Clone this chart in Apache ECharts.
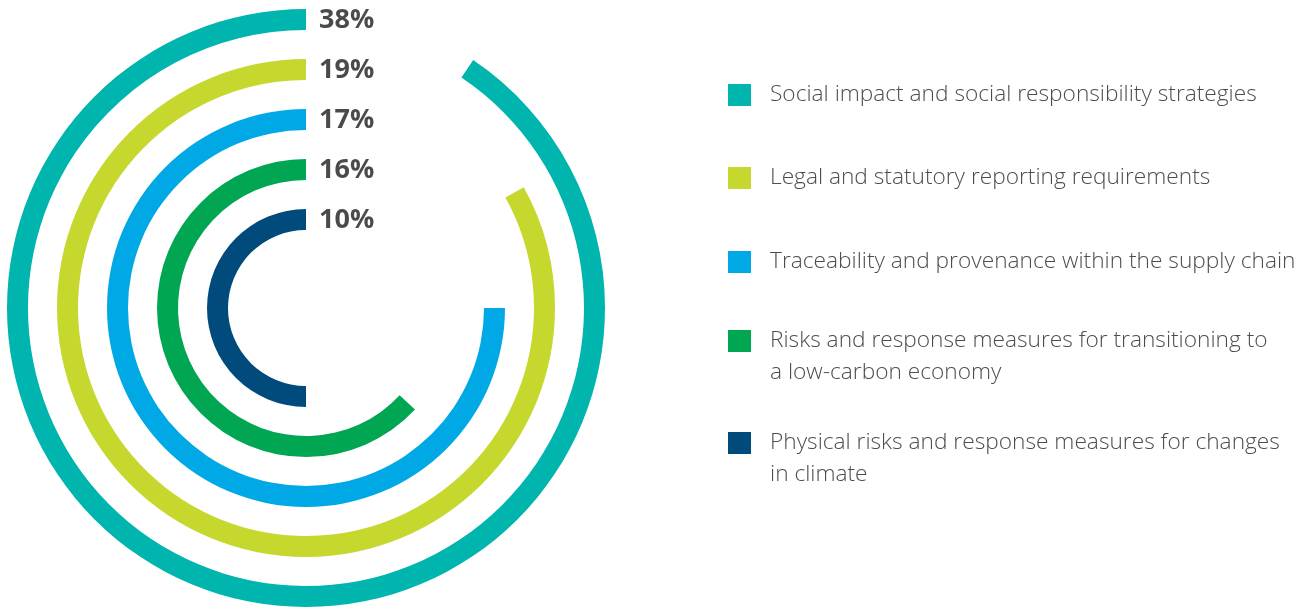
<!DOCTYPE html>
<html>
<head>
<meta charset="utf-8">
<script src="https://cdn.jsdelivr.net/npm/echarts@6/dist/echarts.min.js"></script>
<style>
  html, body { margin: 0; padding: 0; background: #ffffff; }
  #chart { width: 1307px; height: 611px; }
</style>
</head>
<body>
<div id="chart"></div>
<script>
// ---- data (outer ring first) ----
const categories = [
  'Social impact and social responsibility strategies',
  'Legal and statutory reporting requirements',
  'Traceability and provenance within the supply chain',
  'Risks and response measures for transitioning to\na low-carbon economy',
  'Physical risks and response measures for changes\nin climate'
];
const percentLabels = ['38%', '19%', '17%', '16%', '10%'];
// arc sweep of each ring in degrees (counter-clockwise from 12 o'clock)
const arcSweep = [326, 299, 270, 227, 180];
const fullTurn = 360;
const colors = ['#00b5ad', '#c6d72e', '#00a9e6', '#00a651', '#004a7c'];

// ---- layout / style ----
const center = [306, 308];
const ringOuter = [299, 249, 199, 149, 99];
const ringThickness = 21;
const legendIconCenters = [95, 178, 262, 341, 443];
const lineGap = 32;
const textFont = 'Open Sans';
const textColor = '#4d4d4d';
const legendFontSize = 22.7;

// radius axis (for the % labels) runs from the centre outwards: innermost ring first
const radiusCats = categories.slice().reverse();
const idxOnAxis = i => radiusCats.indexOf(categories[i]);

const chart = echarts.init(document.getElementById('chart'), null, { renderer: 'canvas' });

const ringSeries = categories.map((name, i) => ({
  name: 'ring-' + i,
  type: 'pie',
  center: center,
  radius: [ringOuter[i] - ringThickness, ringOuter[i]],
  startAngle: 90,
  clockwise: false,
  silent: true,
  animation: false,
  label: { show: false },
  labelLine: { show: false },
  emphasis: { disabled: true },
  data: [
    { name: name, value: arcSweep[i], itemStyle: { color: colors[i] } },
    { name: 'rest-' + i, value: fullTurn - arcSweep[i], itemStyle: { color: 'rgba(0,0,0,0)' } }
  ]
}));

const labelSeries = {
  type: 'scatter',
  coordinateSystem: 'polar',
  symbolSize: 0,
  silent: true,
  animation: false,
  data: categories.map((c, i) => [idxOnAxis(i), 0]),
  label: {
    show: true,
    position: 'right',
    distance: 13,
    offset: [0, 1],
    formatter: p => percentLabels[p.dataIndex],
    fontFamily: textFont,
    fontWeight: 'bold',
    fontSize: 27,
    color: '#1e1b1c'
  }
};

const legends = categories.map((name, i) => ({
  show: true,
  orient: 'vertical',
  left: 728,
  top: legendIconCenters[i] - 12,
  data: [{ name: name, itemStyle: { color: colors[i] } }],
  icon: 'rect',
  itemWidth: 23,
  itemHeight: 22,
  selectedMode: false,
  padding: 0,
  formatter: n => n.split('\n')[0],
  textStyle: {
    fontFamily: textFont,
    fontWeight: 300,
    fontSize: legendFontSize,
    lineHeight: 24,
    color: textColor,
    padding: [0, 0, 0, 14]
  }
}));

const secondLines = [];
categories.forEach((name, i) => {
  const parts = name.split('\n');
  if (parts.length > 1) {
    secondLines.push({
      type: 'text',
      x: 770,
      y: legendIconCenters[i] + lineGap,
      silent: true,
      style: {
        text: parts[1],
        fontFamily: textFont,
        fontWeight: 300,
        fontSize: legendFontSize,
        fill: textColor,
        verticalAlign: 'middle',
        align: 'left'
      }
    });
  }
});

chart.setOption({
  backgroundColor: '#ffffff',
  animation: false,
  polar: { center: center, radius: [ringOuter[4] - ringThickness - 14.5, ringOuter[0] + 14.5] },
  angleAxis: {
    type: 'value',
    min: 0,
    max: fullTurn,
    startAngle: 90,
    clockwise: false,
    show: false,
    axisLine: { show: false },
    axisTick: { show: false },
    axisLabel: { show: false },
    splitLine: { show: false }
  },
  radiusAxis: {
    type: 'category',
    data: radiusCats,
    show: false,
    axisLine: { show: false },
    axisTick: { show: false },
    axisLabel: { show: false },
    splitLine: { show: false }
  },
  legend: legends,
  graphic: secondLines,
  series: ringSeries.concat([labelSeries])
});
</script>
</body>
</html>
